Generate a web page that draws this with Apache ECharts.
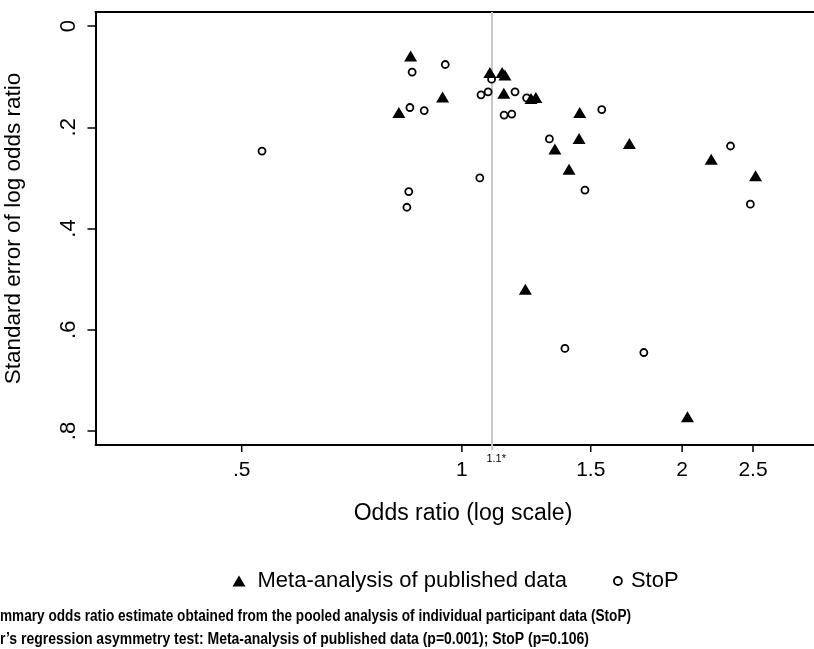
<!DOCTYPE html>
<html><head><meta charset="utf-8">
<script src="https://cdn.jsdelivr.net/npm/echarts@6/dist/echarts.min.js"></script>
<style>html,body{margin:0;padding:0;background:#fff}#c{width:814px;height:649px}</style>
</head><body><div id="c"></div>
<script>
// ---- data ----
const xTickValues = [0.5, 1, 1.5, 2, 2.5];
const xTickLabels = ['.5', '1', '1.5', '2', '2.5'];
const yTickValues = [0, 0.2, 0.4, 0.6, 0.8];
const yTickLabels = ['0', '.2', '.4', '.6', '.8'];
const refValue = 1.1;
const refLabel = '1.1*';
const seriesNames = ['Meta-analysis of published data', 'StoP'];
const metaOR = [0.851, 1.092, 1.135, 1.145, 0.941, 1.141, 1.243, 1.262, 0.820, 1.449, 1.446, 1.694, 1.340, 1.401, 2.192, 2.520, 1.221, 2.034];
const metaSE = [0.059, 0.092, 0.092, 0.097, 0.140, 0.133, 0.143, 0.141, 0.171, 0.171, 0.222, 0.232, 0.243, 0.283, 0.263, 0.296, 0.520, 0.772];
const stopOR = [0.949, 0.855, 1.098, 1.062, 1.086, 1.182, 1.226, 0.849, 0.888, 1.142, 1.170, 1.553, 1.317, 1.058, 0.846, 0.841, 1.473, 0.533, 2.329, 2.479, 1.383, 1.773];
const stopSE = [0.076, 0.091, 0.105, 0.136, 0.130, 0.130, 0.142, 0.161, 0.167, 0.176, 0.174, 0.165, 0.223, 0.300, 0.327, 0.358, 0.324, 0.247, 0.237, 0.352, 0.637, 0.645];
const xTitle = 'Odds ratio (log scale)';
const yTitle = 'Standard error of log odds ratio';
const footnotes = [
  'mmary odds ratio estimate obtained from the pooled analysis of individual participant data (StoP)',
  'r\u2019s regression asymmetry test: Meta-analysis of published data (p=0.001); StoP (p=0.106)'
];
const xMin = 0.3156, xMax = 3.029;
const yMin = -0.0277, yMax = 0.8277;

// ---- layout ----
const FONT = '"Liberation Sans", Arial, Helvetica, sans-serif';
const chart = echarts.init(document.getElementById('c'), null, {renderer: 'canvas'});

function fitScale(text, font, target) {
  const ctx = document.createElement('canvas').getContext('2d');
  ctx.font = font;
  return target / ctx.measureText(text).width;
}
const footFont = 'bold 16px "Liberation Sans", Arial, sans-serif';
const footWidths = [631, 589];
const footY = [617, 640];

const metaData = metaOR.map((v, i) => [v, metaSE[i]]);
const stopData = stopOR.map((v, i) => [v, stopSE[i]]);
const frameLine = {show: true, onZero: false, lineStyle: {color: '#000', width: 2}};

const option = {
  animation: false,
  backgroundColor: '#fff',
  grid: {left: 95.5, top: 12, right: 0, height: 433, containLabel: false, outerBoundsMode: 'none'},
  xAxis: [
    {
      type: 'log', min: xMin, max: xMax, position: 'bottom',
      axisLine: frameLine, axisTick: {show: false}, axisLabel: {show: false}, splitLine: {show: false}
    },
    {
      type: 'log', min: xMin, max: xMax, position: 'top',
      axisLine: frameLine, axisTick: {show: false}, axisLabel: {show: false}, splitLine: {show: false}
    }
  ],
  yAxis: {
    type: 'value', inverse: true, min: yMin, max: yMax,
    name: yTitle, nameLocation: 'middle', nameRotate: 90, nameGap: 70,
    nameTextStyle: {fontSize: 22.5, fontFamily: FONT, color: '#000'},
    axisLine: frameLine,
    axisTick: {show: true, length: 8, customValues: yTickValues, lineStyle: {color: '#000', width: 1.5}},
    axisLabel: {
      show: true, rotate: 90, margin: 16, customValues: yTickValues,
      fontSize: 22, fontFamily: FONT, color: '#000',
      formatter: function (v) {
        const i = yTickValues.findIndex(t => Math.abs(t - v) < 1e-9);
        return i >= 0 ? yTickLabels[i] : '';
      }
    },
    splitLine: {show: false}
  },
  legend: [
    {
      data: [{name: seriesNames[0], icon: 'triangle', itemStyle: {color: '#000'}}],
      left: 232.5, top: 570, itemWidth: 13, itemHeight: 11, padding: 0,
      textStyle: {fontSize: 22, fontFamily: FONT, color: '#000', padding: [0, 0, 0, 7]}, selectedMode: false
    },
    {
      data: [{name: seriesNames[1], icon: 'circle', itemStyle: {color: '#fff', borderColor: '#000', borderWidth: 1.8}}],
      left: 613, top: 570, itemWidth: 8, itemHeight: 8, padding: 0,
      textStyle: {fontSize: 22, fontFamily: FONT, color: '#000', padding: [0, 0, 0, 4]}, selectedMode: false
    }
  ],
  graphic: [
    {type: 'text', x: 463, y: 514, style: {text: xTitle, fontSize: 23, fontFamily: FONT, fill: '#000', align: 'center', verticalAlign: 'middle'}}
  ].concat(footnotes.map((t, i) => ({
    type: 'text', x: 0, y: footY[i], scaleX: fitScale(t, footFont, footWidths[i]),
    style: {text: t, font: footFont, fill: '#000', align: 'left', verticalAlign: 'middle'}
  }))),
  series: [
    {
      name: seriesNames[1], type: 'scatter', z: 2, data: stopData,
      symbol: 'circle', symbolSize: 7,
      itemStyle: {color: '#fff', borderColor: '#000', borderWidth: 1.8, opacity: 1},
      markLine: {
        silent: true, symbol: 'none', label: {show: false}, z: 1,
        lineStyle: {color: '#c8c8c8', width: 2, type: 'solid'},
        data: [{xAxis: refValue}]
      }
    },
    {
      name: seriesNames[0], type: 'scatter', z: 3, data: metaData,
      symbol: 'triangle', symbolSize: [13, 11],
      itemStyle: {color: '#000', opacity: 1}
    },
    {
      type: 'custom', z: 4, silent: true,
      data: xTickValues.map(v => [v, 0]),
      encode: {x: 0, y: 1},
      renderItem: function (params, api) {
        const v = api.value(0);
        const x = api.coord([v, 0])[0];
        const yb = params.coordSys.y + params.coordSys.height;
        return {type: 'group', children: [
          {type: 'line', shape: {x1: x, y1: yb, x2: x, y2: yb + 7}, style: {stroke: '#000', lineWidth: 1.5}},
          {type: 'text', x: x, y: yb + 25, style: {text: xTickLabels[params.dataIndex], fontSize: 21, fontFamily: FONT, fill: '#000', align: 'center', verticalAlign: 'middle'}}
        ]};
      }
    },
    {
      type: 'custom', z: 4, silent: true,
      data: [[refValue, 0]],
      encode: {x: 0, y: 1},
      renderItem: function (params, api) {
        const x = api.coord([api.value(0), 0])[0];
        const yb = params.coordSys.y + params.coordSys.height;
        return {type: 'group', children: [
          {type: 'line', shape: {x1: x, y1: yb, x2: x, y2: yb + 5}, style: {stroke: '#c8c8c8', lineWidth: 2}},
          {type: 'text', x: x + 4, y: yb + 14, style: {text: refLabel, fontSize: 11, fontFamily: FONT, fill: '#000', align: 'center', verticalAlign: 'middle'}}
        ]};
      }
    }
  ]
};
chart.setOption(option);
</script>
</body></html>
